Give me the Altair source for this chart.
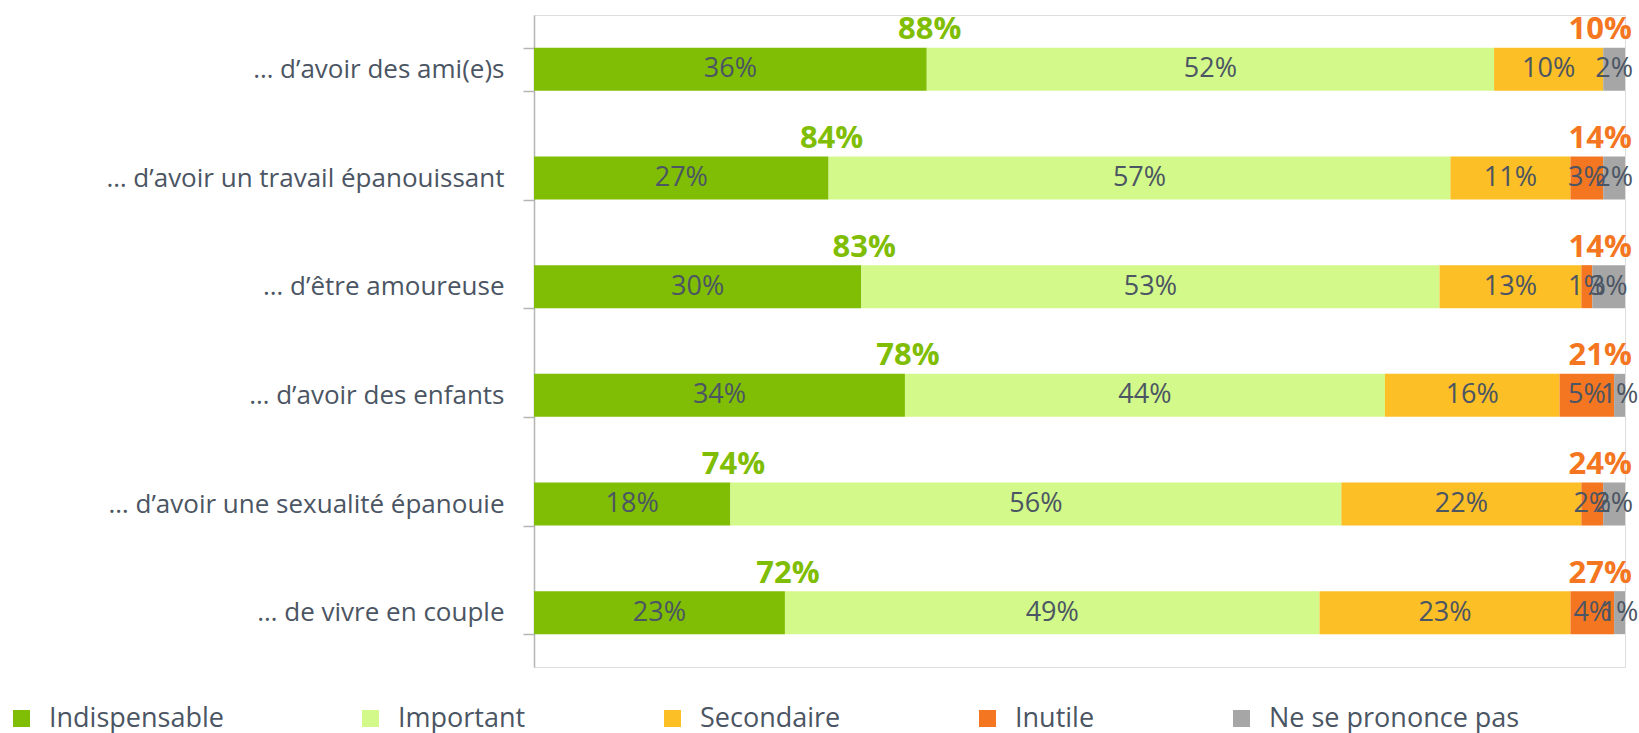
import altair as alt
import pandas as pd

categories = [
    "… d’avoir des ami(e)s",
    "… d’avoir un travail épanouissant",
    "… d’être amoureuse",
    "… d’avoir des enfants",
    "… d’avoir une sexualité épanouie",
    "… de vivre en couple",
]
series = ["Indispensable", "Important", "Secondaire", "Inutile", "Ne se prononce pas"]
colors = ["#80BD05", "#D3F98A", "#FDBF26", "#F47621", "#A6A6A6"]

indispensable = [36, 27, 30, 34, 18, 23]
important = [52, 57, 53, 44, 56, 49]
secondaire = [10, 11, 13, 16, 22, 23]
inutile = [0, 3, 1, 5, 2, 4]
nsp = [2, 2, 3, 1, 2, 1]
total_positive = [88, 84, 83, 78, 74, 72]
total_negative = [10, 14, 14, 21, 24, 27]

values = [indispensable, important, secondaire, inutile, nsp]
rows = []
for si, s in enumerate(series):
    for ci, c in enumerate(categories):
        v = values[si][ci]
        if v > 0:
            rows.append({"cat": c, "type": s, "order": si, "value": v, "label": f"{v}%"})
df = pd.DataFrame(rows)

tot = pd.DataFrame({
    "cat": categories,
    "ind": indispensable,
    "pos": [f"{v}%" for v in total_positive],
    "neg": [f"{v}%" for v in total_negative],
    "end": [100] * len(categories),
})

FONT = "Open Sans"
TXT = "#4B5563"

y_enc = alt.Y("cat:N", sort=categories, title=None,
              scale=alt.Scale(paddingInner=0.6, paddingOuter=0.3),
              axis=alt.Axis(domainColor="#B4B4B4", domainWidth=1.5, tickColor="#B4B4B4",
                            tickWidth=1.5, tickSize=11, tickBand="extent", labelPadding=19,
                            labelFontSize=26, labelFont=FONT, labelColor=TXT, labelLimit=600))

xscale = alt.Scale(domain=[0, 100], nice=False, zero=True)

bars = alt.Chart(df).mark_bar(size=43).encode(
    y=y_enc,
    x=alt.X("value:Q", stack="zero", scale=xscale, axis=None),
    color=alt.Color("type:N", sort=series,
                    scale=alt.Scale(domain=series, range=colors),
                    legend=alt.Legend(title=None, orient="none", direction="horizontal",
                                      legendX=-526, legendY=690, columnPadding=133, padding=0,
                                      labelFontSize=27, labelFont=FONT, labelColor=TXT,
                                      symbolType="square", symbolSize=289, symbolStrokeWidth=0,
                                      labelLimit=400, gridAlign="none", symbolOffset=0,
                                      labelOffset=14)),
    order=alt.Order("order:Q"),
)

inner = alt.Chart(df).transform_stack(
    stack="value", groupby=["cat"], sort=[alt.SortField("order")], as_=["x0", "x1"]
).transform_calculate(mid="(datum.x0 + datum.x1) / 2").mark_text(
    fontSize=27, font=FONT, color=TXT, baseline="middle", align="center"
).encode(
    y=alt.Y("cat:N", sort=categories),
    x=alt.X("mid:Q", scale=xscale),
    text="label:N",
)

pos = alt.Chart(tot).mark_text(
    fontSize=31, font=FONT, fontWeight="bold", color="#80BD05",
    align="center", baseline="alphabetic", dy=-30, dx=3
).encode(
    y=alt.Y("cat:N", sort=categories),
    x=alt.X("ind:Q", scale=xscale),
    text="pos:N",
)

neg = alt.Chart(tot).mark_text(
    fontSize=31, font=FONT, fontWeight="bold", color="#F47621",
    align="right", baseline="alphabetic", dy=-30, dx=7
).encode(
    y=alt.Y("cat:N", sort=categories),
    x=alt.X("end:Q", scale=xscale),
    text="neg:N",
)

chart = alt.layer(bars, inner, pos, neg).properties(
    width=1091, height=652,
    autosize=alt.AutoSizeParams(type="none"),
    padding={"left": 534, "top": 15, "right": 14, "bottom": 66},
).configure_view(stroke=None).configure(background="white")

chart.save("out.html", embed_options={"renderer": "svg", "actions": False})
